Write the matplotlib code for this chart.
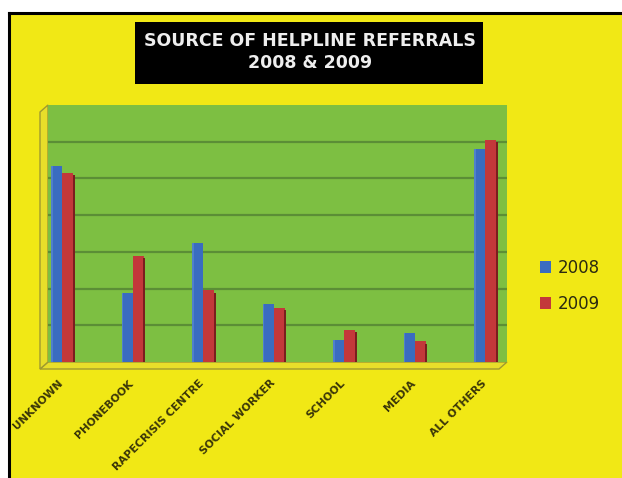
import numpy as np
import matplotlib
matplotlib.use("Agg")
import matplotlib.pyplot as plt
import matplotlib.transforms as mtransforms
from matplotlib.patches import Rectangle, Polygon
from matplotlib.lines import Line2D

categories = ["UNKNOWN", "PHONEBOOK", "RAPECRISIS CENTRE", "SOCIAL WORKER",
              "SCHOOL", "MEDIA", "ALL OTHERS"]
y2008 = [53.5, 18.8, 32.5, 15.8, 6.0, 8.0, 58.1]
y2009 = [51.4, 28.8, 19.5, 14.7, 8.8, 5.6, 60.4]
title = "SOURCE OF HELPLINE REFERRALS\n2008 & 2009"

W, H = 622, 478
yellow = "#f1e815"
green = "#7dbf42"
blue = "#3a6cc0"
red = "#c3383a"
olive = "#3a3608"


def fx(px):
    return px / W


def fy(py):
    return 1 - py / H


fig = plt.figure(figsize=(W / 100, H / 100), dpi=100, facecolor="white")

# yellow slide background with black border on top and left
fig.patches.append(Rectangle((fx(9), 0), 1, fy(13), transform=fig.transFigure,
                             facecolor=yellow, edgecolor="none", zorder=-3))
fig.lines.append(Line2D([fx(9), fx(9)], [0, fy(13)], transform=fig.transFigure,
                        color="black", lw=2.2, zorder=-2))
fig.lines.append(Line2D([fx(9), 1], [fy(13), fy(13)], transform=fig.transFigure,
                        color="black", lw=2.2, zorder=-2))

# title box
fig.patches.append(Rectangle((fx(135), fy(84)), fx(483) - fx(135), fy(22) - fy(84),
                             transform=fig.transFigure, facecolor="black",
                             edgecolor="none", zorder=-2))
fig.text(fx(310), fy(52), title, color="#eeeeee", ha="center", va="center",
         fontsize=12.5, fontweight="bold", linespacing=1.3, zorder=2)

# 3d floor / wall hints
floor = Polygon([(fx(40), fy(369)), (fx(499), fy(369)), (fx(507), fy(362)),
                 (fx(48), fy(362))], closed=True, transform=fig.transFigure,
                facecolor="#e8de2a", edgecolor="#a09a30", lw=1, zorder=-2)
fig.patches.append(floor)
wall = Polygon([(fx(40), fy(369)), (fx(48), fy(362)), (fx(48), fy(105)),
                (fx(40), fy(112))], closed=True, transform=fig.transFigure,
               facecolor="#e8de2a", edgecolor="#a09a30", lw=1, zorder=-2)
fig.patches.append(wall)

ax = fig.add_axes([fx(48), fy(362), fx(507) - fx(48), fy(105) - fy(362)])
ax.set_zorder(1)
ax.set_facecolor(green)
ax.set_xlim(-0.2, 6.31)
ax.set_ylim(0, 70)
ax.set_yticks([10, 20, 30, 40, 50, 60])
ax.yaxis.grid(True, color="#5b8e36", lw=1.6)
ax.set_axisbelow(True)
ax.tick_params(axis="y", left=False, labelleft=False)
ax.tick_params(axis="x", bottom=False)
for s in ax.spines.values():
    s.set_visible(False)

x = np.arange(len(categories))
w = 0.155
ax.bar(x - w / 2, y2008, width=w, color=blue, label="2008", zorder=3)
ax.bar(x + w / 2, y2009, width=w, color=red, label="2009", zorder=3)
# shaded right sides
ax.bar(x + w + 0.012, np.array(y2009) - 0.6, width=0.03, color="#7a1e1e", zorder=3)
ax.bar(x - w + 0.012, y2008, width=0.025, color="#4f80cc", zorder=4)

ax.set_xticks(x)
ax.set_xticklabels(categories, rotation=45, ha="right", va="top",
                   rotation_mode="anchor", fontsize=7.8, fontweight="bold",
                   color=olive)
ax.tick_params(axis="x", pad=8)
shift = mtransforms.ScaledTranslation(-4 / 100, 0, fig.dpi_scale_trans)
for lab in ax.get_xticklabels():
    lab.set_transform(lab.get_transform() + shift)

leg = ax.legend(loc="center left", bbox_to_anchor=(fx(533), fy(286)),
                bbox_transform=fig.transFigure, frameon=False, fontsize=12,
                handlelength=0.7, handleheight=0.7, handletextpad=0.4,
                labelspacing=1.1, borderaxespad=0)
for t in leg.get_texts():
    t.set_color("#2b2a10")

fig.savefig("out.png", dpi=100, facecolor="white")
